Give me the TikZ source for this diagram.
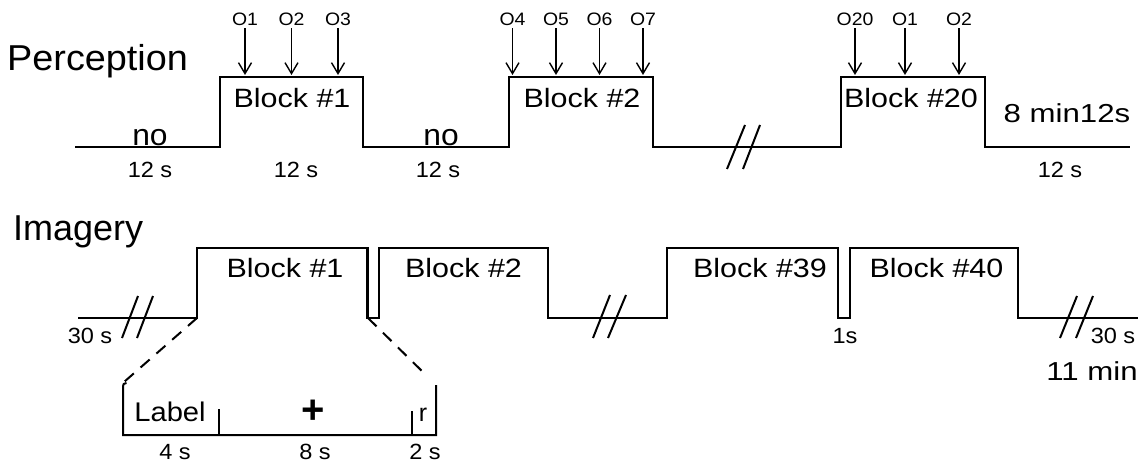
\documentclass[tikz,border=0pt]{standalone}
\usepackage{graphicx}
\usepackage{fontspec}
\setmainfont{Liberation Sans}
\usetikzlibrary{arrows.meta}
\newcommand{\hs}[2]{\scalebox{#1}[1]{#2}}
\begin{document}
\begin{tikzpicture}[x=1pt,y=-1pt,
  wave/.style={line width=2.4pt, line join=miter},
  brk/.style={line width=2pt},
  thin/.style={line width=2pt},
  dsh/.style={line width=2pt, dash pattern=on 12pt off 9pt},
  arr/.style={line width=1.4pt, shorten <=2pt, -{Straight Barb[length=11pt,width=13pt,line width=1.4pt]}},
  big/.style={font=\fontsize{36}{40}\selectfont, inner sep=0pt, anchor=base west},
  blk/.style={font=\fontsize{26.5}{30}\selectfont, inner sep=0pt, anchor=base},
  nol/.style={font=\fontsize{30}{34}\selectfont, inner sep=0pt, anchor=base},
  tot/.style={font=\fontsize{26}{30}\selectfont, inner sep=0pt, anchor=base},
  sml/.style={font=\fontsize{22}{24}\selectfont, inner sep=0pt, anchor=base},
  olab/.style={font=\fontsize{18}{20}\selectfont, inner sep=0pt, anchor=base}]
\fill[white] (0,0) rectangle (1143,468);
\useasboundingbox (0,0) rectangle (1143,468);

% ---------------- Perception ----------------
\node[big] (perc) at (7,71) {\hs{1.05}{Perception}};
\draw[wave] (75,147) -- (220,147) -- (220,77) -- (363,77) -- (363,147)
  -- (508.7,147) -- (508.7,77) -- (652.7,77) -- (652.7,147)
  -- (841,147) -- (841,77) -- (985,77) -- (985,147) -- (1130,147);
\draw[brk] (727,169) -- (745,125);
\draw[brk] (743,169) -- (760,125);

\node[blk] (pb1) at (292,108) {\hs{1.15}{Block \#1}};
\node[blk] (pb2) at (582,108) {\hs{1.15}{Block \#2}};
\node[blk] (pb20) at (911,108) {\hs{1.15}{Block \#20}};
\node[nol] (no1) at (150,146) {\hs{1.06}{no}};
\node[nol] (no2) at (441,146) {\hs{1.06}{no}};
\node[tot] (ptot) at (1067,123) {\hs{1.2}{8 min12s}};
\node[sml] (ps1) at (150,177) {\hs{1.07}{12 s}};
\node[sml] (ps2) at (296,177) {\hs{1.07}{12 s}};
\node[sml] (ps3) at (438,177) {\hs{1.07}{12 s}};
\node[sml] (ps4) at (1060,177) {\hs{1.07}{12 s}};

\foreach \n/\x/\t in {a/245/O1, b/291.5/O2, c/338/O3, d/512.5/O4, e/556/O5, f/599.5/O6, g/643/O7, h/855/O20, i/905/O1, j/959/O2} {
  \node[olab] (o\n) at (\x,26) {\hs{1.08}{\t}};
  \coordinate (t\n) at (\x,75);
  \draw[arr] (o\n.south) -- (t\n);
}

% ---------------- Imagery ----------------
\node[big] (imag) at (13,240) {Imagery};
\draw[wave] (78,318) -- (197,318) -- (197,248) -- (367.5,248) -- (367.5,318)
  -- (379,318) -- (379,248) -- (548,248) -- (548,318)
  -- (667,318) -- (667,248) -- (838,248) -- (838,318)
  -- (850,318) -- (850,248) -- (1018,248) -- (1018,318) -- (1138,318);
\draw[brk] (122,338) -- (138,296);
\draw[brk] (137,338) -- (153,296);
\draw[brk] (593,338) -- (610,295);
\draw[brk] (608,338) -- (626,295);
\draw[brk] (1060,338) -- (1077,296);
\draw[brk] (1076,338) -- (1093,296);

\node[blk] (ib1) at (285,277) {\hs{1.15}{Block \#1}};
\node[blk] (ib2) at (463.5,277) {\hs{1.15}{Block \#2}};
\node[blk] (ib39) at (760,277) {\hs{1.15}{Block \#39}};
\node[blk] (ib40) at (936.5,277) {\hs{1.15}{Block \#40}};
\node[sml] (is1) at (90,343) {\hs{1.07}{30 s}};
\node[sml] (is2) at (845,343) {\hs{1.07}{1s}};
\node[sml] (is3) at (1113,343) {\hs{1.07}{30 s}};
\node[tot] (itot) at (1092,380) {\hs{1.2}{11 min}};

% ---------------- Inset ----------------
\coordinate (b1l) at (197,318);
\coordinate (b1r) at (368,318);
\coordinate (il) at (124,382);
\coordinate (ir) at (427,376);
\draw[dsh] (b1l) -- (il);
\draw[dsh] (b1r) -- (ir);
\draw[thin] (126.5,383) .. controls (123.5,383.5) .. (123,387) -- (123,435) -- (436,435) -- (436,385);
\draw[thin] (219,409) -- (219,435);
\draw[thin] (412,411) -- (412,435);
\node[blk, font=\fontsize{27}{30}\selectfont] (lab) at (170,421) {\hs{1.08}{Label}};
\node[font=\fontsize{40}{42}\selectfont\bfseries, inner sep=0pt] (plus) at (313,412) {+};
\node[blk, font=\fontsize{25}{28}\selectfont] (rr) at (423,421) {r};
\node[sml] (s4) at (175,459) {\hs{1.07}{4 s}};
\node[sml] (s8) at (315,459) {\hs{1.07}{8 s}};
\node[sml] (s2) at (425,459) {\hs{1.07}{2 s}};
\end{tikzpicture}
\end{document}
